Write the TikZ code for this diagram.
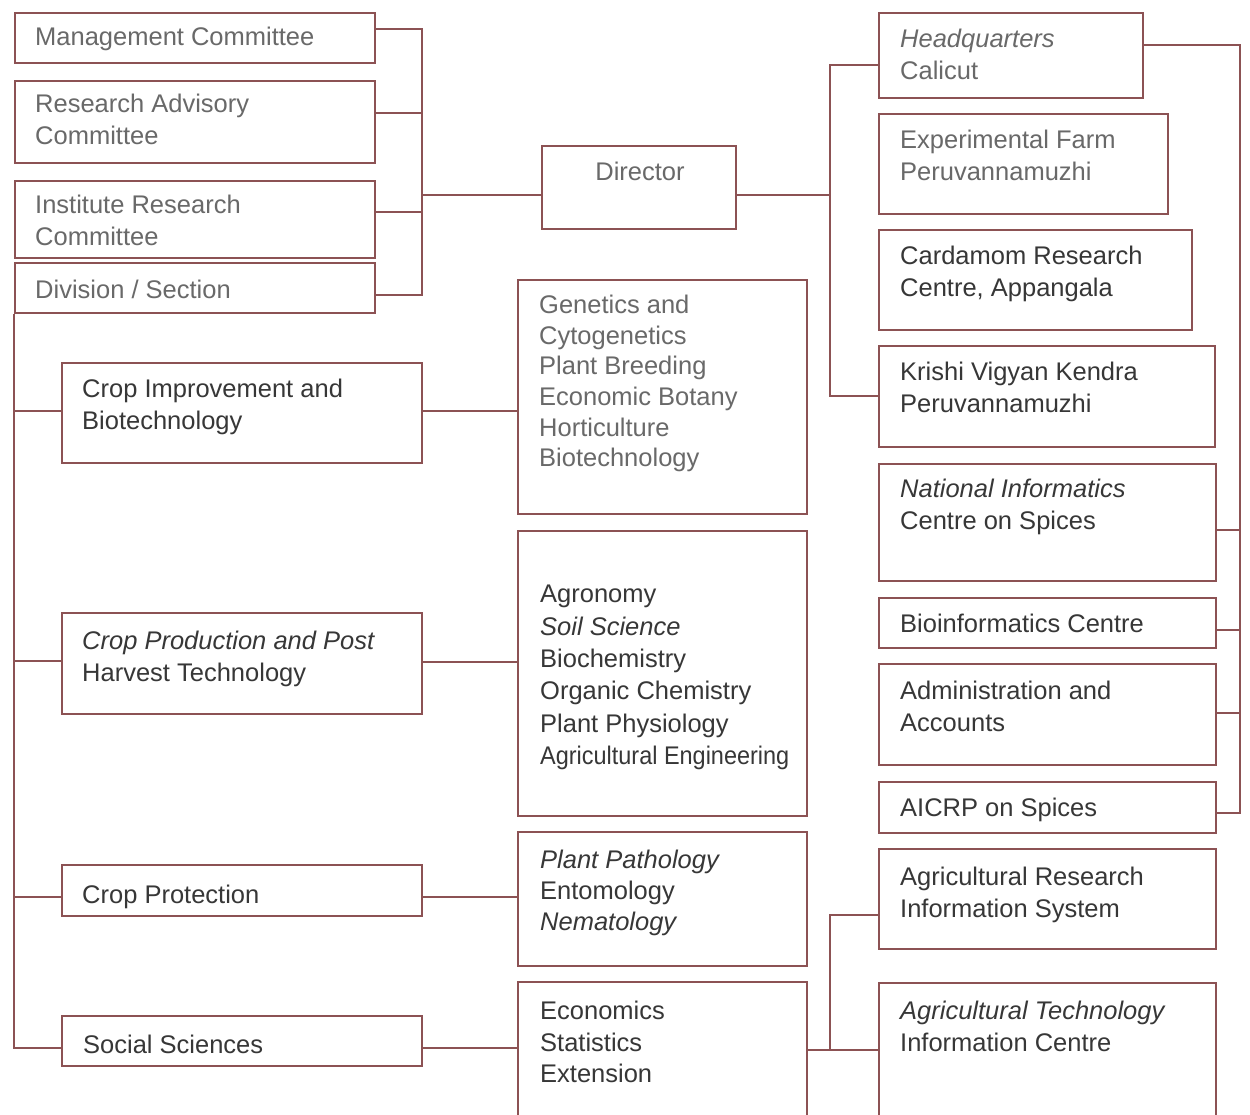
\documentclass[tikz,border=0pt]{standalone}
\usepackage{fontspec}
\usepackage{graphicx}
\setmainfont{Liberation Sans}
\definecolor{linec}{RGB}{140,82,84}
\definecolor{txtd}{RGB}{55,55,55}
\definecolor{txtl}{RGB}{105,105,105}
\tikzset{
  box/.style={draw=linec, line width=1.7pt, rectangle, inner sep=0pt, anchor=north west},
  conn/.style={draw=linec, line width=1.7pt},
  txt/.style={anchor=north west, inner sep=0pt, align=left, text=txtd, font=\fontsize{25.5}{32}\selectfont},
  ltxt/.style={txt, text=txtl},
}
\begin{document}
\begin{tikzpicture}[x=1pt,y=-1pt]
\useasboundingbox[fill=white] (0,0) rectangle (1250,1115);
% left upper boxes
\node[box, minimum width=360pt, minimum height=50pt] (mc) at (14,12) {};
\node[box, minimum width=360pt, minimum height=82pt] (rac) at (14,80) {};
\node[box, minimum width=360pt, minimum height=77pt] (irc) at (14,180) {};
\node[box, minimum width=360pt, minimum height=50pt] (div) at (14,262) {};
\node[box, minimum width=194pt, minimum height=83pt] (dir) at (541,145) {};
% divisions
\node[box, minimum width=360pt, minimum height=100pt] (ci) at (61,362) {};
\node[box, minimum width=360pt, minimum height=101pt] (cp) at (61,612) {};
\node[box, minimum width=360pt, minimum height=51pt] (cpr) at (61,864) {};
\node[box, minimum width=360pt, minimum height=50pt] (ss) at (61,1015) {};
% sections
\node[box, minimum width=289pt, minimum height=234pt] (gen) at (517,279) {};
\node[box, minimum width=289pt, minimum height=285pt] (agr) at (517,530) {};
\node[box, minimum width=289pt, minimum height=134pt] (pat) at (517,831) {};
\node[box, minimum width=289pt, minimum height=150pt] (eco) at (517,981) {};
% right column
\node[box, minimum width=264pt, minimum height=85pt] (hq) at (878,12) {};
\node[box, minimum width=289pt, minimum height=100pt] (ef) at (878,113) {};
\node[box, minimum width=313pt, minimum height=100pt] (crc) at (878,229) {};
\node[box, minimum width=336pt, minimum height=101pt] (kvk) at (878,345) {};
\node[box, minimum width=337pt, minimum height=117pt] (nic) at (878,463) {};
\node[box, minimum width=337pt, minimum height=50pt] (bio) at (878,597) {};
\node[box, minimum width=337pt, minimum height=101pt] (adm) at (878,663) {};
\node[box, minimum width=337pt, minimum height=51pt] (aic) at (878,781) {};
\node[box, minimum width=337pt, minimum height=100pt] (aris) at (878,848) {};
\node[box, minimum width=337pt, minimum height=150pt] (atic) at (878,982) {};

% texts
\node[ltxt] (tmc) at (35,27) {Management Committee};
\node[ltxt] (trac) at (35,94) {Research Advisory\\Committee};
\node[ltxt] (tirc) at (35,195) {Institute Research\\Committee};
\node[ltxt] (tdiv) at (35,280) {Division / Section};
\node[ltxt, anchor=north] (tdir) at (640,162) {Director};
\node[txt] (tci) at (82,379) {Crop Improvement and\\Biotechnology};
\node[txt] (tcp) at (82,631) {\itshape Crop Production and Post\\Harvest Technology};
\node[txt] (tcpr) at (82,885) {Crop Protection};
\node[txt] (tss) at (83,1035) {Social Sciences};
\node[ltxt, font=\fontsize{25.5}{30.6}\selectfont] (tgen) at (539,295) {Genetics and\\Cytogenetics\\Plant Breeding\\Economic Botany\\Horticulture\\Biotechnology};
\node[txt, font=\fontsize{25.5}{32.4}\selectfont] (tagr) at (540,585) {Agronomy\\{\itshape Soil Science}\\Biochemistry\\Organic Chemistry\\Plant Physiology\\\scalebox{0.92}[1]{Agricultural Engineering}};
\node[txt, font=\fontsize{25.5}{31}\selectfont] (tpat) at (540,850) {{\itshape Plant Pathology}\\Entomology\\{\itshape Nematology}};
\node[txt, font=\fontsize{25.5}{31.5}\selectfont] (teco) at (540,1001) {Economics\\Statistics\\Extension};
\node[ltxt] (thq) at (900,29) {{\itshape Headquarters}\\Calicut};
\node[ltxt] (tef) at (900,130) {Experimental Farm\\Peruvannamuzhi};
\node[txt] (tcrc) at (900,246) {Cardamom Research\\Centre, Appangala};
\node[txt] (tkvk) at (900,362) {Krishi Vigyan Kendra\\Peruvannamuzhi};
\node[txt] (tnic) at (900,479) {{\itshape National Informatics}\\Centre on Spices};
\node[txt] (tbio) at (900,614) {Bioinformatics Centre};
\node[txt] (tadm) at (900,681) {Administration and\\Accounts};
\node[txt] (taic) at (900,798) {AICRP on Spices};
\node[txt] (taris) at (900,867) {Agricultural Research\\Information System};
\node[txt] (tatic) at (900,1001) {{\itshape Agricultural Technology}\\Information Centre};

% bus coordinates
\coordinate (bl1) at (422,29);
\coordinate (bl2) at (422,113);
\coordinate (bl3) at (422,195);
\coordinate (bl4) at (422,212);
\coordinate (bl5) at (422,295);
\coordinate (br1) at (830,65);
\coordinate (br2) at (830,195);
\coordinate (br3) at (830,396);
\coordinate (bf1) at (1240,45);
\coordinate (bf2) at (1240,530);
\coordinate (bf3) at (1240,630);
\coordinate (bf4) at (1240,713);
\coordinate (bf5) at (1240,813);
\coordinate (bv1) at (14,411);
\coordinate (bv2) at (14,661);
\coordinate (bv3) at (14,897);
\coordinate (bv4) at (14,1048);
\coordinate (bb1) at (830,915);
\coordinate (bb2) at (830,1050);

% left committee bus
\draw[conn] (mc.east |- bl1) -- (bl1) -- (bl5) -- (div.east |- bl5);
\draw[conn] (rac.east |- bl2) -- (bl2);
\draw[conn] (irc.east |- bl4) -- (bl4);
\draw[conn] (bl3) -- (dir.west |- bl3);
% director to right
\draw[conn] (dir.east |- br2) -- (br2);
\draw[conn] (hq.west |- br1) -- (br1) -- (br3) -- (kvk.west |- br3);
% far right bus
\draw[conn] (hq.east |- bf1) -- (bf1) -- (bf5) -- (aic.east |- bf5);
\draw[conn] (nic.east |- bf2) -- (bf2);
\draw[conn] (bio.east |- bf3) -- (bf3);
\draw[conn] (adm.east |- bf4) -- (bf4);
% left vertical bus
\draw[conn] (div.south west) -- (bv4) -- (ss.west |- bv4);
\draw[conn] (bv1) -- (ci.west |- bv1);
\draw[conn] (bv2) -- (cp.west |- bv2);
\draw[conn] (bv3) -- (cpr.west |- bv3);
% divisions to sections
\draw[conn] (ci.east |- bv1) -- (gen.west |- bv1);
\draw[conn] (cp.east |- 0,662) -- (agr.west |- 0,662);
\draw[conn] (cpr.east |- bv3) -- (pat.west |- bv3);
\draw[conn] (ss.east |- bv4) -- (eco.west |- bv4);
% bottom right
\draw[conn] (eco.east |- bb2) -- (atic.west |- bb2);
\draw[conn] (bb2) -- (bb1) -- (aris.west |- bb1);
\end{tikzpicture}
\end{document}
